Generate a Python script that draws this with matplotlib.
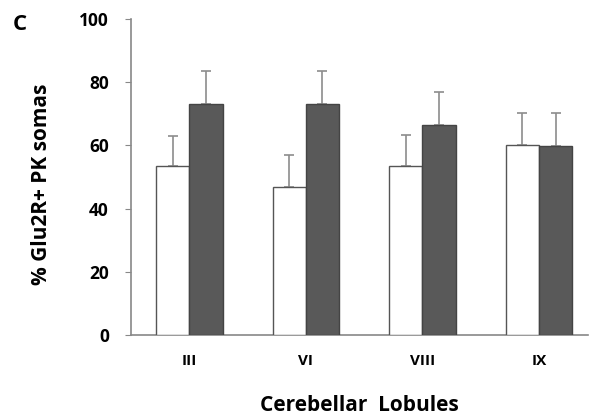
import matplotlib
matplotlib.use("Agg")
import matplotlib.pyplot as plt
import numpy as np

categories = ["III", "VI", "VIII", "IX"]
white_vals = [53.6, 46.7, 53.6, 60.2]
white_err = [9.5, 10.2, 9.6, 10.0]
dark_vals = [73.1, 73.2, 66.6, 59.9]
dark_err = [10.3, 10.2, 10.2, 10.3]
yticks = [0, 20, 40, 60, 80, 100]

plt.rcParams['font.family'] = ['Open Sans', 'DejaVu Sans']

fig = plt.figure(figsize=(5.9, 4.18), dpi=100)
ax = fig.add_axes([131/590, 1-335/418, (588-131)/590, (335-19)/418])

x = np.arange(len(categories))
w = 0.285
ax.bar(x - w/2, white_vals, w, color='white', edgecolor='#555555', linewidth=1.0, zorder=3)
ax.bar(x + w/2, dark_vals, w, color='#595959', edgecolor='#444444', linewidth=1.0, zorder=3)
ax.errorbar(x - w/2, white_vals, yerr=[np.zeros(4), white_err], fmt='none',
            ecolor='#8c8c8c', elinewidth=1.2, capsize=3.5, capthick=1.2, zorder=2)
ax.errorbar(x + w/2, dark_vals, yerr=[np.zeros(4), dark_err], fmt='none',
            ecolor='#8c8c8c', elinewidth=1.2, capsize=3.5, capthick=1.2, zorder=2)

ax.set_xlim(-0.5, 3.42)
ax.set_ylim(0, 100)
ax.set_yticks(yticks)
ax.set_yticklabels([str(t) for t in yticks], fontsize=12.5, fontweight='bold')
ax.set_xticks(x)
ax.set_xticklabels(categories, fontsize=11, fontweight='bold')
ax.tick_params(axis='x', length=0, pad=14)
ax.tick_params(axis='y', length=4, color='#888888', pad=12)
for s in ['top', 'right']:
    ax.spines[s].set_visible(False)
for s in ['left', 'bottom']:
    ax.spines[s].set_color('#888888')
    ax.spines[s].set_linewidth(1.2)

ax.set_ylabel('% Glu2R+ PK somas', fontsize=15, fontweight='bold')
ax.yaxis.set_label_coords(-0.172, 0.478)
ax.set_xlabel('Cerebellar  Lobules', fontsize=15, fontweight='bold', labelpad=19)
fig.text(13/590, 1-25/418, 'C', fontsize=16, fontweight='bold', va='center', ha='left')

fig.savefig('out.png', dpi=100)
